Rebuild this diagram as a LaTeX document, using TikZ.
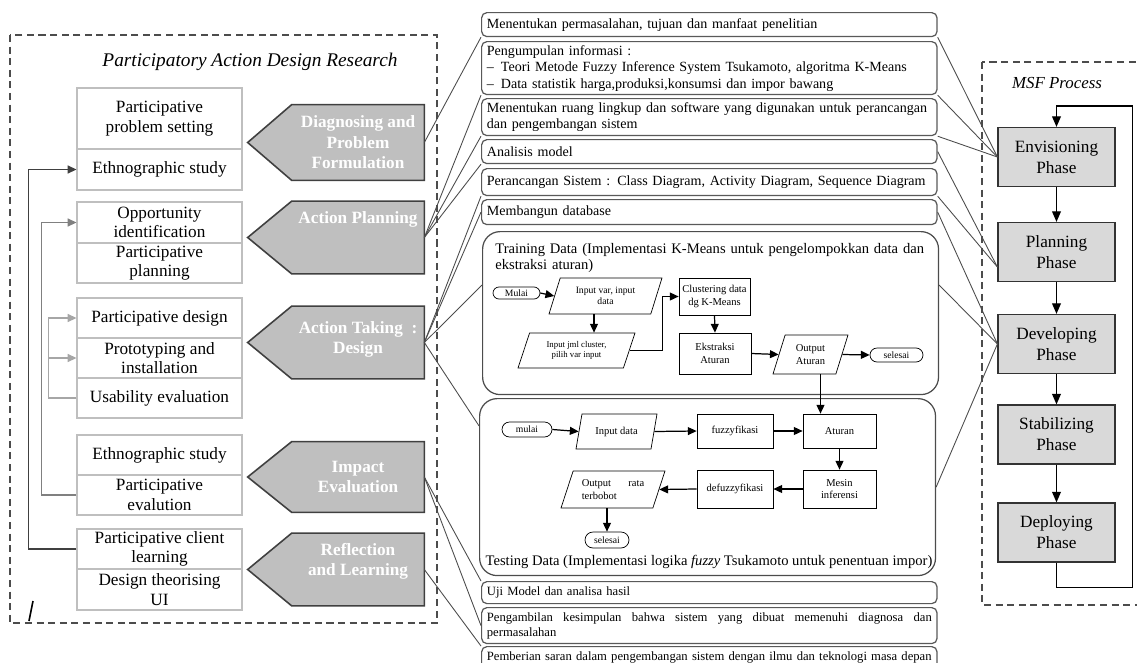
\documentclass[tikz,border=0pt]{standalone}
\usepackage{fontspec}
\setmainfont{Liberation Serif}
\usetikzlibrary{positioning,shapes,shapes.misc,shapes.geometric,arrows.meta,calc,backgrounds}

\begin{document}
\begin{tikzpicture}[x=0.02cm,y=-0.02cm,
	dashframe/.style={draw=black!70,line width=1pt,dash pattern=on 4pt off 2.6pt},
	cell/.style={draw=black!25,line width=0.6pt,minimum width=3.3cm,minimum height=0.8cm,inner sep=0pt,align=center,font=\fontsize{9.8}{11.2}\selectfont},
	pent/.style={minimum width=2.64cm,minimum height=1.44cm,inner sep=0pt,align=center,text=white,font=\bfseries\fontsize{9.8}{11.7}\selectfont},
	pentfill/.style={draw=black!75,line width=0.9pt,fill=black!25},
	task/.style={draw=black!65,line width=0.7pt,rounded corners=3pt,anchor=north west,minimum width=9.1cm,inner xsep=3pt,inner ysep=1pt,align=left,text width=8.9cm,font=\fontsize{8}{9.4}\selectfont},
	small/.style={font=\fontsize{7.2}{8.4}\selectfont},
	block/.style={draw=black!70,line width=0.7pt,rounded corners=0.35cm,anchor=north west,inner sep=0pt,minimum width=9.12cm},
	term/.style={draw,rounded rectangle,inner sep=0pt,font=\fontsize{5.5}{6}\selectfont},
	io/.style={draw,trapezium,trapezium left angle=58,trapezium right angle=122,trapezium stretches body,inner sep=0pt,align=center,font=\fontsize{5.5}{6.5}\selectfont},
	proc/.style={draw,inner sep=1pt,align=center,font=\fontsize{6}{7}\selectfont},
	fl/.style={-{Triangle[length=5pt,width=4.5pt]},line width=0.7pt},
	phase/.style={draw=black!80,fill=black!15,line width=0.7pt,minimum width=2.34cm,minimum height=1.18cm,align=center,font=\fontsize{9.8}{12}\selectfont},
	parr/.style={-{Triangle[length=6pt,width=5pt]},line width=0.7pt},
	fb/.style={-{Triangle[length=5pt,width=4.5pt]},line width=1pt},
	link/.style={draw=black!70,line width=0.5pt}]
	\useasboundingbox (0,0) rectangle (1137,663);

	% PADR frame
	\draw[dashframe] (10,35) rectangle (437,623);
	\node[font=\itshape\fontsize{11}{13}\selectfont] (padr) at (250,62) {Participatory Action Design Research};

	% PADR activities
	\node[cell,minimum height=1.22cm] (pps) at (159.5,118.5) {Participative\\problem setting};
	\node[cell,minimum height=0.82cm] (eth1) at (159.5,169.5) {Ethnographic study};
	\node[cell,minimum height=0.82cm] (opp) at (159.5,222.5) {Opportunity\\identification};
	\node[cell] (ppl) at (159.5,263) {Participative\\planning};
	\node[cell] (pdes) at (159.5,318) {Participative design};
	\node[cell] (proto) at (159.5,358) {Prototyping and\\installation};
	\node[cell] (usa) at (159.5,398) {Usability evaluation};
	\node[cell] (eth2) at (159.5,455) {Ethnographic study};
	\node[cell] (pev) at (159.5,495) {Participative\\evalution};
	\node[cell] (pcl) at (159.5,549) {Participative client\\learning};
	\node[cell,minimum height=0.82cm] (dtu) at (159.5,589.5) {Design theorising\\UI};

	% PADR stages
	\node[pent,minimum height=1.5cm] (dpf) at (358,142.5) {Diagnosing and\\Problem\\Formulation};
	\node[pent] (apl) at (358,237.5) {Action Planning\\[11pt]\mbox{}};
	\node[pent] (atd) at (358,342.5) {Action Taking\enspace:\\Design\\[-6pt]\mbox{}};
	\node[pent,minimum height=1.4cm] (iev) at (358,477) {Impact\\Evaluation};
	\node[pent] (rel) at (358,569.5) {Reflection\\and Learning\\\mbox{}};
	\begin{scope}[on background layer]
		\foreach \n in {dpf,apl,atd,iev,rel}
			\draw[pentfill] (\n.north east) -- (\n.south east) -- (\n.south west) -- ([xshift=-0.88cm]\n.west) -- (\n.north west) -- cycle;
	\end{scope}

	% feedback loops
	\draw[fb,black!75] (pcl.west) -- ++(-48,0) |- (eth1.west);
	\draw[fb,black!50] (pev.west) -- ++(-35,0) |- (opp.west);
	\draw[fb,black!35] (usa.west) -- ++(-28,0) coordinate (ub) |- (pdes.west);
	\draw[fb,black!35] (ub) |- (proto.west);
	\draw[line width=0.9pt] (33,601) -- (29,621);

	% research steps
	\node[task,minimum height=0.48cm] (b1) at (481,12) {Menentukan permasalahan, tujuan dan manfaat penelitian};
	\node[task,minimum height=1.06cm] (b2) at (481,41) {Pengumpulan informasi :\\\textendash\enspace Teori Metode Fuzzy Inference System Tsukamoto, algoritma K-Means\\\textendash\enspace Data statistik harga,produksi,konsumsi dan impor bawang};
	\node[task,minimum height=0.74cm] (b3) at (481,98) {Menentukan ruang lingkup dan software yang digunakan untuk perancangan\\dan pengembangan sistem};
	\node[task,minimum height=0.48cm] (b4) at (481,139) {Analisis model};
	\node[task,minimum height=0.54cm] (b5) at (481,168) {Perancangan Sistem : Class Diagram, Activity Diagram, Sequence Diagram};
	\node[task,minimum height=0.5cm] (b6) at (481,199) {Membangun database};

	% training data
	\node[block,minimum height=3.26cm] (trn) at (482,231) {};
	\node[anchor=north west,text width=8.9cm,align=left,inner sep=0pt,font=\fontsize{8.3}{9.4}\selectfont] (trnt) at (495,243) {Training Data (Implementasi K-Means untuk pengelompokkan data dan\\ekstraksi aturan)};
	\node[term,minimum width=0.94cm,minimum height=0.24cm] (mul1) at (516.5,293) {Mulai};
	\node[io,minimum width=2.26cm,minimum height=0.72cm] (in1) at (605.5,296) {Input var, input\\data};
	\node[io,minimum width=2.34cm,minimum height=0.7cm,font=\fontsize{5}{6}\selectfont] (in2) at (576.5,350.5) {Input jml cluster,\\pilih var input};
	\node[proc,minimum width=1.42cm,minimum height=0.74cm] (clu) at (714.5,296.5) {Clustering data\\dg K-Means};
	\node[proc,minimum width=1.44cm,minimum height=0.82cm] (eks) at (715,353.5) {Ekstraksi\\Aturan};
	\node[io,minimum width=1.5cm,minimum height=0.78cm,font=\fontsize{6}{7}\selectfont] (oat) at (810.5,354.5) {Output\\Aturan};
	\node[term,minimum width=1.06cm,minimum height=0.28cm] (sel1) at (896.5,355) {selesai};
	\draw[fl] (mul1.east) -- (in1.west);
	\draw[fl] ([xshift=-0.23cm]in1.south) -- ([xshift=-0.23cm]in1.south |- in2.north);
	\draw[fl] (in2.east) -- ++(33,0) |- (clu.west);
	\draw[fl] (clu.south) -- (eks.north);
	\draw[fl] (eks.east) -- (oat.west);
	\draw[fl] (oat.east) -- (sel1.west);

	% testing data
	\node[block,minimum height=3.54cm] (tst) at (479,398) {};
	\node[font=\fontsize{8.3}{10}\selectfont] (tstt) at (709,562) {Testing Data (Implementasi logika \textit{fuzzy} Tsukamoto untuk penentuan impor)};
	\node[term,minimum width=1.0cm,minimum height=0.3cm] (mul2) at (527,429.5) {mulai};
	\node[io,minimum width=1.62cm,minimum height=0.7cm,font=\fontsize{6}{7}\selectfont] (ind) at (616.5,431.5) {Input data};
	\node[proc,minimum width=1.52cm,minimum height=0.68cm] (fuz) at (735,431) {fuzzyfikasi};
	\node[proc,minimum width=1.46cm,minimum height=0.68cm] (atr) at (839.5,431) {Aturan};
	\node[proc,minimum width=1.46cm,minimum height=0.76cm] (mes) at (839.5,489) {Mesin\\inferensi};
	\node[proc,minimum width=1.52cm,minimum height=0.76cm] (dfz) at (735,489) {defuzzyfikasi};
	\node[io,minimum width=2.08cm,minimum height=0.74cm,text width=1.25cm,align=left,font=\fontsize{6}{7}\selectfont] (ort) at (613,489.5) {Output\hfill rata\\terbobot};
	\node[term,minimum width=0.88cm,minimum height=0.32cm] (sel2) at (607,540) {selesai};
	\draw[fl] ([xshift=0.2cm]oat.south) -- ([xshift=0.2cm]oat.south |- atr.north);
	\draw[fl] (mul2.east) -- (ind.west);
	\draw[fl] (ind.east) -- (fuz.west);
	\draw[fl] (fuz.east) -- (atr.west);
	\draw[fl] (atr.south) -- (mes.north);
	\draw[fl] (mes.west) -- (dfz.east);
	\draw[fl] (dfz.west) -- (ort.east);
	\draw[fl] (sel2.north |- ort.south) -- (sel2.north);

	% closing steps
	\node[task,small,minimum height=0.44cm] (b7) at (481,581) {Uji Model dan analisa hasil};
	\node[task,small,align=justify,minimum height=0.72cm] (b8) at (481,607) {Pengambilan kesimpulan bahwa sistem yang dibuat memenuhi diagnosa dan\linebreak permasalahan};
	\node[task,small,minimum height=0.44cm] (b9) at (481,646) {Pemberian saran dalam pengembangan sistem dengan ilmu dan teknologi masa depan};

	% MSF frame
	\draw[dashframe] (982,62) rectangle (1142,605);
	\node[font=\itshape\fontsize{9.6}{11}\selectfont] (msf) at (1057,83) {MSF Process};
	\node[phase] (env) at (1056.5,157) {Envisioning\\Phase};
	\node[phase] (pln) at (1056.5,252) {Planning\\Phase};
	\node[phase] (dev) at (1056.5,344) {Developing\\Phase};
	\node[phase] (stb) at (1056.5,434.5) {Stabilizing\\Phase};
	\node[phase] (dep) at (1056.5,532.5) {Deploying\\Phase};
	\draw[parr] (env.south) -- (pln.north);
	\draw[parr] (pln.south) -- (dev.north);
	\draw[parr] (dev.south) -- (stb.north);
	\draw[parr] (stb.south) -- (dep.north);
	\draw[parr] (dep.south) -- ++(0,25) -- ++(76,0) |- ($(env.north)+(0,-21)$) -- (env.north);

	% PADR stages to steps
	\draw[link] (dpf.east) -- (b1.south west);
	\draw[link] (apl.east) -- (b2.south west);
	\draw[link] (apl.east) -- (b3.south west);
	\draw[link] (apl.east) -- (b4.south west);
	\draw[link] (atd.east) -- (b5.south west);
	\draw[link] (atd.east) -- (b6.west);
	\draw[link] (atd.east) -- (trn.173);
	\draw[link] (atd.east) -- (tst.165);
	\draw[link] (iev.east) -- (b7.north west);
	\draw[link] (iev.east) -- (b8.west);
	\draw[link] (rel.east) -- (b9.north west);

	% steps to MSF phases
	\draw[link] (b1.south east) -- (env.west);
	\draw[link] (b2.south east) -- (env.west);
	\draw[link] (b3.south east) -- (env.west);
	\draw[link] (b4.east) -- ([yshift=-0.3cm]pln.west);
	\draw[link] (b5.south east) -- ([yshift=-0.3cm]pln.west);
	\draw[link] (b6.east) -- (dev.west);
	\draw[link] (trn.7) -- (dev.west);
	\draw[link] (tst.east) -- (dev.west);
\end{tikzpicture}
\end{document}
